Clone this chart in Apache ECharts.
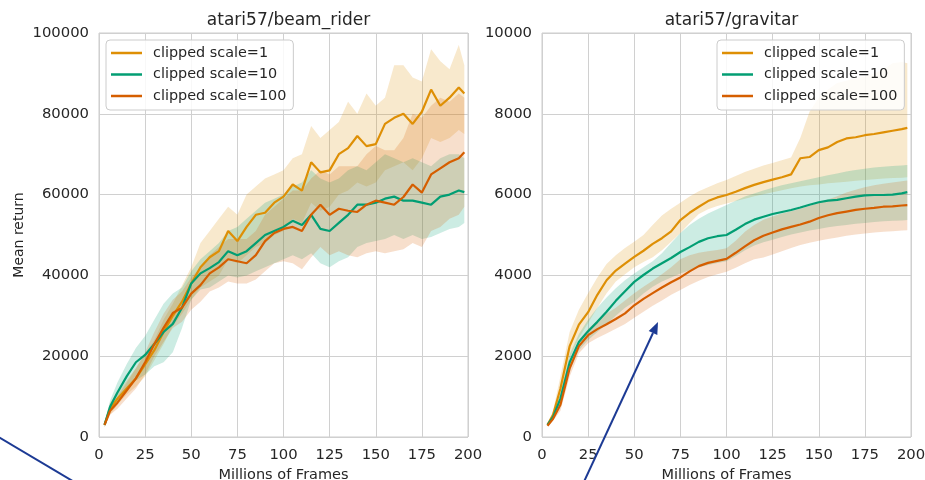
<!DOCTYPE html>
<html>
<head>
<meta charset="utf-8">
<script src="https://cdn.jsdelivr.net/npm/echarts@6/dist/echarts.min.js"></script>
<style>
  html, body { margin: 0; padding: 0; background: #fff; }
  #chart { width: 925px; height: 480px; }
</style>
</head>
<body>
<div id="chart"></div>
<script>
// frames (millions), shared by every series
var frames = [3, 6, 10, 15, 20, 25, 30, 35, 40, 45, 50, 55, 60, 65, 70, 75, 80, 85, 90, 95, 100,
  105, 110, 115, 120, 125, 130, 135, 140, 145, 150, 155, 160, 165, 170, 175, 180, 185, 190, 195, 198];

var seriesNames = ['clipped scale=1', 'clipped scale=10', 'clipped scale=100'];
var colors = ['#de8f05', '#029e73', '#d55e00'];

// atari57/beam_rider
var beamS1 = [3000, 7000, 9500, 12000, 14500, 18000, 21500, 26000, 30000, 33500, 38000, 42000, 44500, 46000, 51000, 48500, 52000, 55000, 55500, 58000, 59500,
  62500, 61000, 68000, 65500, 66000, 70000, 71500, 74500, 72000, 72500, 77500, 79000, 80000, 77500, 80500, 86000, 82000, 84000, 86500, 85000];
var beamS1Hi = [3500, 8500, 11000, 14000, 17000, 20500, 24000, 29000, 33000, 37500, 42000, 48000, 51000, 54000, 57000, 55000, 60000, 62000, 64000, 65000, 66000,
  69000, 70000, 77000, 74000, 76000, 78000, 83000, 80000, 85000, 82000, 84000, 92000, 92000, 89000, 88000, 96000, 93000, 91000, 97000, 92000];
var beamS1Lo = [2500, 5500, 8000, 10500, 12500, 15000, 19000, 23000, 27500, 30500, 34000, 37000, 38500, 40000, 44000, 43000, 45000, 47000, 48000, 50000, 51000,
  54000, 53000, 58000, 56000, 57000, 60000, 61000, 63000, 62000, 63000, 66000, 67000, 68000, 66000, 69000, 74000, 73000, 74000, 76000, 75000];

var beamS10 = [3000, 7500, 11000, 15000, 18500, 20300, 23000, 26000, 28000, 32000, 38000, 40500, 41800, 43300, 46000, 45000, 46000, 48000, 50000, 51000, 52000,
  53500, 52500, 55000, 51500, 51000, 53000, 55000, 57500, 57500, 58000, 59000, 59500, 58500, 58500, 58000, 57500, 59500, 60000, 61000, 60600];
var beamS10Hi = [3500, 9000, 13500, 18000, 22000, 25000, 29000, 33000, 35500, 37000, 41000, 44000, 46000, 48000, 51000, 52000, 54000, 56000, 58000, 59000, 60000,
  62000, 63000, 66000, 64000, 63000, 64000, 66000, 67000, 66000, 68000, 70000, 69000, 68000, 69000, 68000, 67000, 69000, 70000, 70000, 69000];
var beamS10Lo = [2500, 6000, 8500, 11500, 14000, 15500, 17500, 18500, 21000, 27000, 34000, 36500, 37000, 38500, 40000, 39500, 40000, 41000, 42000, 43000, 44000,
  45000, 44000, 45500, 43000, 42000, 43500, 44500, 47000, 48000, 48500, 49000, 50000, 49000, 50000, 49000, 49500, 50500, 51500, 52000, 53000];

var beamS100 = [3000, 6500, 8500, 11500, 14500, 18500, 23000, 27000, 30700, 32000, 35500, 37600, 40500, 42000, 44000, 43500, 43000, 45000, 48500, 50500, 51500,
  52000, 51000, 55000, 57500, 55000, 56500, 56000, 55700, 57500, 58500, 58000, 57500, 59400, 62500, 60500, 65000, 66500, 68000, 69000, 70500];
var beamS100Hi = [3500, 7500, 10000, 13500, 17000, 21000, 26000, 30500, 34000, 36000, 39500, 42000, 45000, 47000, 49000, 49000, 49000, 51000, 55000, 57000, 59000,
  61000, 61000, 64000, 66000, 65000, 67000, 67000, 67000, 70000, 72000, 71000, 71000, 74000, 80000, 79000, 82000, 84000, 83000, 85000, 84000];
var beamS100Lo = [2500, 5500, 7000, 9500, 12000, 15500, 20000, 23500, 27000, 28500, 31500, 33500, 36000, 37000, 38500, 38000, 38000, 39000, 41000, 43000, 43500,
  43000, 41500, 44500, 47000, 45000, 46000, 45000, 44500, 45500, 46000, 45500, 46000, 46500, 48000, 47000, 51000, 52000, 54000, 55000, 57000];

// atari57/gravitar
var gravS1 = [300, 550, 1200, 2250, 2780, 3090, 3520, 3880, 4120, 4290, 4460, 4610, 4780, 4920, 5090, 5370, 5550, 5700, 5840, 5930, 5990,
  6070, 6160, 6240, 6310, 6370, 6430, 6500, 6900, 6930, 7100, 7170, 7300, 7390, 7420, 7470, 7500, 7540, 7580, 7620, 7650];
var gravS1Hi = [330, 650, 1500, 2600, 3150, 3560, 3950, 4280, 4500, 4680, 4830, 5000, 5250, 5480, 5650, 5800, 5950, 6080, 6180, 6280, 6360,
  6460, 6560, 6640, 6720, 6780, 6850, 6920, 7400, 8050, 8400, 8600, 8760, 8820, 8880, 8920, 9000, 9100, 9250, 9280, 9250];
var gravS1Lo = [270, 450, 950, 1950, 2450, 2820, 3200, 3560, 3850, 4030, 4200, 4330, 4450, 4620, 4830, 5050, 5300, 5520, 5640, 5720, 5780,
  5840, 5900, 5960, 6010, 6060, 6110, 6160, 6200, 6230, 6250, 6280, 6300, 6320, 6340, 6360, 6380, 6400, 6410, 6420, 6430];

var gravS10 = [300, 500, 950, 1850, 2350, 2620, 2850, 3100, 3370, 3610, 3840, 4010, 4170, 4300, 4430, 4580, 4700, 4830, 4920, 4970, 5000,
  5130, 5270, 5380, 5450, 5520, 5570, 5620, 5680, 5750, 5810, 5850, 5870, 5910, 5950, 5980, 5990, 5990, 6000, 6030, 6060];
var gravS10Hi = [320, 560, 1100, 2050, 2550, 2900, 3200, 3450, 3680, 3880, 4050, 4200, 4350, 4550, 4800, 5050, 5250, 5400, 5530, 5640, 5740,
  5850, 5950, 6030, 6100, 6170, 6230, 6280, 6330, 6380, 6430, 6480, 6520, 6570, 6610, 6640, 6670, 6690, 6705, 6720, 6730];
var gravS10Lo = [280, 450, 800, 1650, 2150, 2400, 2600, 2800, 3000, 3200, 3350, 3550, 3720, 3850, 3950, 4050, 4130, 4200, 4260, 4310, 4350,
  4480, 4620, 4740, 4820, 4880, 4950, 5010, 5060, 5110, 5150, 5190, 5220, 5250, 5280, 5300, 5320, 5340, 5350, 5360, 5370];

var gravS100 = [280, 450, 800, 1700, 2250, 2520, 2670, 2790, 2920, 3060, 3260, 3420, 3560, 3700, 3830, 3950, 4100, 4230, 4310, 4360, 4410,
  4560, 4720, 4870, 4980, 5060, 5140, 5200, 5260, 5330, 5420, 5490, 5540, 5580, 5620, 5650, 5670, 5700, 5710, 5730, 5740];
var gravS100Hi = [300, 500, 900, 1850, 2400, 2680, 2880, 3050, 3200, 3380, 3560, 3720, 3870, 4030, 4200, 4400, 4500, 4560, 4600, 4630, 4670,
  4860, 5080, 5250, 5380, 5460, 5530, 5590, 5650, 5720, 5800, 5880, 5960, 6050, 6120, 6180, 6230, 6270, 6300, 6330, 6350];
var gravS100Lo = [260, 400, 650, 1500, 2070, 2320, 2450, 2560, 2680, 2800, 2950, 3100, 3250, 3380, 3520, 3640, 3760, 3870, 3960, 4030, 4090,
  4190, 4300, 4400, 4440, 4520, 4600, 4680, 4750, 4810, 4860, 4900, 4940, 4980, 5010, 5040, 5060, 5080, 5090, 5110, 5120];

var FONT = 'DejaVu Sans';
var TXT = '#262626';
var GRIDC = '#d0d0d0';

function pairs(ys) {
    return frames.map(function(x, i) { return [x, ys[i]]; });
}

// shaded band: one polygon (upper edge forward, lower edge back) placed through the axes
function bandSeries(gi, k, lo, hi) {
    return {
        type: 'custom', xAxisIndex: gi, yAxisIndex: gi, silent: true, z: 1,
        data: frames.map(function(x, i) { return [x, lo[i], hi[i]]; }),
        encode: { x: 0, y: [1, 2] },
        renderItem: function(params, api) {
            if (params.dataIndex !== 0) return null;
            var pts = [];
            for (var i = 0; i < frames.length; i++) pts.push(api.coord([frames[i], hi[i]]));
            for (var j = frames.length - 1; j >= 0; j--) pts.push(api.coord([frames[j], lo[j]]));
            return {
                type: 'polygon',
                shape: { points: pts },
                style: { fill: colors[k], opacity: 0.2, stroke: colors[k], lineWidth: 0.6, strokeOpacity: 0.1 }
            };
        }
    };
}

function meanSeries(gi, k, ys) {
    return {
        type: 'line', name: seriesNames[k], xAxisIndex: gi, yAxisIndex: gi,
        symbol: 'none', z: 3,
        lineStyle: { color: colors[k], width: 2.2 },
        itemStyle: { color: colors[k] },
        data: pairs(ys)
    };
}

var plots = [
    { mean: [beamS1, beamS10, beamS100], lo: [beamS1Lo, beamS10Lo, beamS100Lo], hi: [beamS1Hi, beamS10Hi, beamS100Hi] },
    { mean: [gravS1, gravS10, gravS100], lo: [gravS1Lo, gravS10Lo, gravS100Lo], hi: [gravS1Hi, gravS10Hi, gravS100Hi] }
];

var series = [];
plots.forEach(function(p, gi) {
    for (var k = 0; k < 3; k++) series.push(bandSeries(gi, k, p.lo[k], p.hi[k]));
    for (var k2 = 0; k2 < 3; k2++) series.push(meanSeries(gi, k2, p.mean[k2]));
});

function xAxis(gi) {
    return {
        type: 'value', gridIndex: gi, min: 0, max: 200, interval: 25,
        name: 'Millions of Frames', nameLocation: 'middle', nameGap: 31,
        nameTextStyle: { fontFamily: FONT, fontSize: 14.5, color: TXT },
        axisLine: { show: false }, axisTick: { show: false },
        axisLabel: { fontFamily: FONT, fontSize: 14.8, color: TXT, margin: 11 },
        splitLine: { lineStyle: { color: GRIDC, width: 1 } }
    };
}

function yAxis(gi, max, step, name) {
    return {
        type: 'value', gridIndex: gi, min: 0, max: max, interval: step,
        name: name, nameLocation: 'middle', nameGap: 73,
        nameTextStyle: { fontFamily: FONT, fontSize: 14, color: TXT },
        axisLine: { show: false }, axisTick: { show: false },
        axisLabel: { fontFamily: FONT, fontSize: 14.8, color: TXT, margin: 10,
            formatter: function(v) { return String(v); } },
        splitLine: { lineStyle: { color: GRIDC, width: 1 } }
    };
}

function legend(left) {
    return {
        left: left, top: 40, orient: 'vertical',
        data: seriesNames,
        icon: 'rect', itemWidth: 31, itemHeight: 2.5, itemGap: 1.5,
        padding: [3, 7, 4, 5],
        backgroundColor: 'rgba(255,255,255,0.85)',
        borderColor: '#cccccc', borderWidth: 1, borderRadius: 4,
        textStyle: { fontFamily: FONT, fontSize: 14.4, color: TXT, lineHeight: 20, padding: [0, 0, 0, 6] }
    };
}

var ARROW = '#1c3a94';

var chart = echarts.init(document.getElementById('chart'), null, { renderer: 'canvas' });
chart.setOption({
    animation: false,
    backgroundColor: '#ffffff',
    title: [
        { text: 'atari57/beam_rider', left: 283.5, top: 7, textAlign: 'center',
          textStyle: { fontFamily: FONT, fontSize: 17, fontWeight: 'normal', color: TXT } },
        { text: 'atari57/gravitar', left: 726.5, top: 7, textAlign: 'center',
          textStyle: { fontFamily: FONT, fontSize: 17, fontWeight: 'normal', color: TXT } }
    ],
    grid: [
        { left: 99, top: 33, width: 369, height: 404, show: true, borderColor: '#cccccc', borderWidth: 1,
          backgroundColor: 'transparent', containLabel: false, outerBoundsMode: 'none' },
        { left: 542, top: 33, width: 369, height: 404, show: true, borderColor: '#cccccc', borderWidth: 1,
          backgroundColor: 'transparent', containLabel: false, outerBoundsMode: 'none' }
    ],
    xAxis: [xAxis(0), xAxis(1)],
    yAxis: [yAxis(0, 100000, 20000, 'Mean return'), yAxis(1, 10000, 2000, '')],
    legend: [legend(106), legend(717)],
    series: series,
    // annotation arrows drawn over the figure
    graphic: [
        { type: 'line', z: 100, shape: { x1: -10, y1: 432, x2: 76, y2: 483 },
          style: { stroke: ARROW, lineWidth: 2 } },
        { type: 'line', z: 100, shape: { x1: 582, y1: 486, x2: 653, y2: 333 },
          style: { stroke: ARROW, lineWidth: 2 } },
        { type: 'polygon', z: 100, shape: { points: [[658, 322], [657.3, 335], [648.7, 331]] },
          style: { fill: ARROW } }
    ]
});
</script>
</body>
</html>
